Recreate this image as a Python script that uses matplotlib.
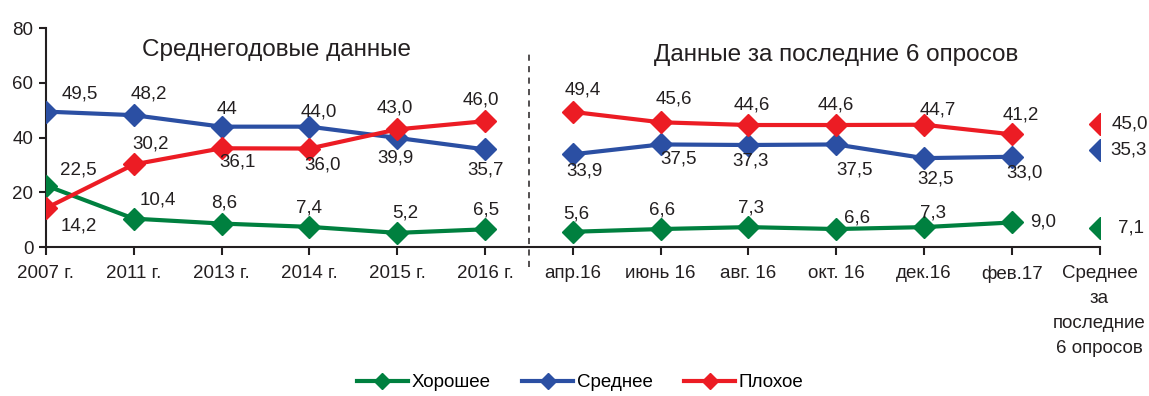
import numpy as np
import matplotlib.pyplot as plt

plt.rcParams['font.family'] = ['Liberation Sans', 'DejaVu Sans']

categories = ['2007 г.', '2011 г.', '2013 г.', '2014 г.', '2015 г.', '2016 г.',
              'апр.16', 'июнь 16', 'авг. 16', 'окт. 16', 'дек.16', 'фев.17',
              'Среднее\nза\nпоследние\n6 опросов']

good = [22.5, 10.4, 8.6, 7.4, 5.2, 6.5, 5.6, 6.6, 7.3, 6.6, 7.3, 9.0, 7.1]
medium = [49.5, 48.2, 44.0, 44.0, 39.9, 35.7, 33.9, 37.5, 37.3, 37.5, 32.5, 33.0, 35.3]
bad = [14.2, 30.2, 36.1, 36.0, 43.0, 46.0, 49.4, 45.6, 44.6, 44.6, 44.7, 41.2, 45.0]

# label texts as printed (one value is shown without a decimal)
good_text = ['22,5', '10,4', '8,6', '7,4', '5,2', '6,5', '5,6', '6,6', '7,3', '6,6', '7,3', '9,0', '7,1']
medium_text = ['49,5', '48,2', '44', '44,0', '39,9', '35,7', '33,9', '37,5', '37,3', '37,5', '32,5', '33,0', '35,3']
bad_text = ['14,2', '30,2', '36,1', '36,0', '43,0', '46,0', '49,4', '45,6', '44,6', '44,6', '44,7', '41,2', '45,0']

# label offsets from the marker, in pixels (x right, y up)
good_off = [(32, 16), (24, 19), (3, 21), (0, 19), (8, 20), (1, 19), (3, 18), (1, 19), (3, 19),
            (21, 11), (9, 14), (31, 0), (31, 0)]
medium_off = [(34, 18), (15, 21), (5, 17), (9, 15), (-2, -20), (1, -21), (12, -17), (18, -15),
              (2, -16), (18, -26), (12, -21), (13, -16), (29, 0)]
bad_off = [(33, -18), (17, 20), (16, -14), (13, -16), (-2, 21), (-4, 21), (10, 22), (13, 23),
           (3, 20), (0, 20), (14, 15), (9, 19), (30, 0)]

series = [
    ('Хорошее', good, good_text, good_off, '#00803F'),
    ('Среднее', medium, medium_text, medium_off, '#2B4FA3'),
    ('Плохое', bad, bad_text, bad_off, '#EC1C24'),
]

fig = plt.figure(figsize=(11.49, 3.96), dpi=100)
ax = fig.add_axes([0.040, 0.376, 0.917, 0.553])

x = np.arange(len(categories))
groups = [slice(0, 6), slice(6, 12), slice(12, 13)]

for name, vals, texts, offs, color in series:
    vals = np.array(vals)
    for k, g in enumerate(groups):
        ax.plot(x[g], vals[g], color=color, lw=3, marker='D', markersize=11,
                label=name if k == 0 else None, zorder=3)
    for xi, v, t, (dx, dy) in zip(x, vals, texts, offs):
        ax.annotate(t, (xi, v), xytext=(dx, dy), textcoords='offset pixels',
                    ha='center', va='center', fontsize=13.5, color='#231F20', zorder=4)

# separator between yearly and survey data
ax.plot([5.5, 5.5], [-7.3, 71], color='#231F20', lw=1.1, ls=(0, (4, 3.5)), clip_on=False)

ax.text(2.63, 72, 'Среднегодовые данные', ha='center', va='center', fontsize=17.5, color='#231F20')
ax.text(9.0, 70.2, 'Данные за последние 6 опросов', ha='center', va='center', fontsize=17.5,
        color='#231F20')

ax.set_xlim(0, 12)
ax.set_ylim(0, 80)
ax.set_yticks([0, 20, 40, 60, 80])
ax.set_xticks(x)
ax.set_xticklabels(categories, linespacing=1.6)
ax.tick_params(axis='both', direction='out', labelsize=13.5, colors='#231F20', width=1.5)
ax.tick_params(axis='x', length=6, pad=7)
ax.tick_params(axis='y', length=5, pad=4)
for side in ['top', 'right']:
    ax.spines[side].set_visible(False)
for side in ['left', 'bottom']:
    ax.spines[side].set_linewidth(1.5)
    ax.spines[side].set_color('#231F20')

fig.legend(loc='center', bbox_to_anchor=(0.505, 0.033), ncol=3, frameon=False,
           fontsize=13.5, handlelength=2.7, columnspacing=1.7, handletextpad=0.2,
           markerscale=0.75)

fig.savefig('out.png', dpi=100)
